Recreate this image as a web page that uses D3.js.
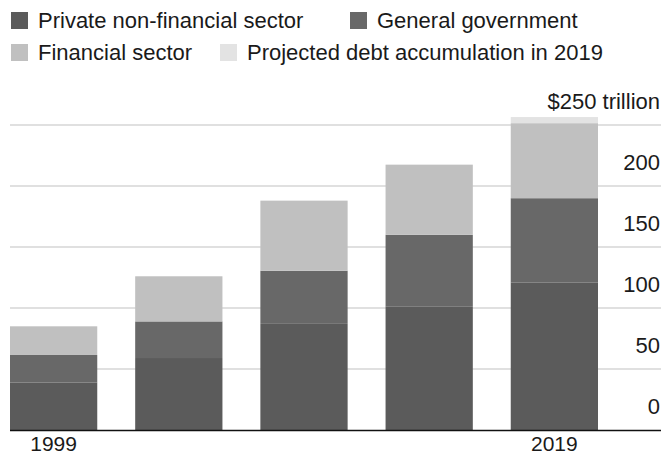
<!DOCTYPE html>
<html>
<head>
<meta charset="utf-8">
<script src="https://d3js.org/d3.v7.min.js"></script>
<style>
  body { margin: 0; background: #fff; }
  text { font-family: "Liberation Sans", Arial, sans-serif; fill: #1a1a1a; }
</style>
</head>
<body>
<div id="chart"></div>
<script>
// Data (trillions of dollars)
var years = ["1999", "2004", "2009", "2014", "2019"];
var privateNonFin = [39, 59, 87, 101, 121];
var government = [22.5, 30, 43.5, 59, 69];
var financial = [23.5, 37, 57.5, 57.5, 61.5];
var projected = [0, 0, 0, 0, 5];
var yTicks = [0, 50, 100, 150, 200, 250];
var xLabels = ["1999", "2019"];

var seriesNames = ["Private non-financial sector", "General government", "Financial sector", "Projected debt accumulation in 2019"];
var colors = ["#5b5b5b", "#686868", "#c0c0c0", "#e3e3e3"];

var width = 663;
var height = 457;

var svg = d3.select("#chart")
  .append("svg")
  .attr("width", width)
  .attr("height", height)

// build rows for the stack
var rows = years.map(function (y, i) {
  return { year: y, p: privateNonFin[i], g: government[i], f: financial[i], j: projected[i] }
})
var stack = d3.stack().keys(["p", "g", "f", "j"])
var series = stack(rows)

var x = d3.scaleBand()
  .domain(years)
  .range([10, 598])
  .paddingInner(0.303)
  .paddingOuter(0)

var y = d3.scaleLinear()
  .domain([0, 250])
  .range([430, 125])

// gridlines
svg.append("g")
  .selectAll("line")
  .data(yTicks.filter(function (d) { return d > 0 }))
  .enter().append("line")
  .attr("x1", 10)
  .attr("x2", 661)
  .attr("y1", function (d) { return y(d) })
  .attr("y2", function (d) { return y(d) })
  .attr("stroke", "#e0e0e0")
  .attr("stroke-width", 2)

// bars
svg.append("g")
  .selectAll("g")
  .data(series)
  .enter().append("g")
  .attr("fill", function (d, i) { return colors[i] })
  .selectAll("rect")
  .data(function (d) { return d })
  .enter().append("rect")
  .attr("x", function (d) { return x(d.data.year) })
  .attr("width", x.bandwidth())
  .attr("y", function (d) { return y(d[1]) })
  .attr("height", function (d) { return y(d[0]) - y(d[1]) })

// baseline
svg.append("line")
  .attr("x1", 10)
  .attr("x2", 661)
  .attr("y1", y(0) + 0.5)
  .attr("y2", y(0) + 0.5)
  .attr("stroke", "#111")
  .attr("stroke-width", 1.5)

// y labels, sitting above their gridlines
svg.append("g")
  .selectAll("text")
  .data(yTicks)
  .enter().append("text")
  .attr("x", 660)
  .attr("y", function (d) { return y(d) - 16 })
  .attr("text-anchor", "end")
  .attr("font-size", "22px")
  .text(function (d) { return d == 250 ? "$250 trillion" : d })

// x labels
svg.append("g")
  .selectAll("text")
  .data(xLabels)
  .enter().append("text")
  .attr("x", function (d) { return x(d) + x.bandwidth() / 2 })
  .attr("y", 451)
  .attr("text-anchor", "middle")
  .attr("font-size", "21px")
  .text(function (d) { return d })

// legend
var legendPos = [[11, 20], [350, 20], [11, 52], [220, 52]];
var legend = svg.append("g")
  .selectAll("g")
  .data(seriesNames)
  .enter().append("g")
  .attr("transform", function (d, i) { return "translate(" + legendPos[i][0] + "," + legendPos[i][1] + ")" })

legend.append("rect")
  .attr("x", 0)
  .attr("y", -8)
  .attr("width", 17)
  .attr("height", 17)
  .attr("fill", function (d, i) { return colors[i] })

legend.append("text")
  .attr("x", 27)
  .attr("y", 8)
  .attr("font-size", "22px")
  .text(function (d) { return d })
</script>
</body>
</html>
